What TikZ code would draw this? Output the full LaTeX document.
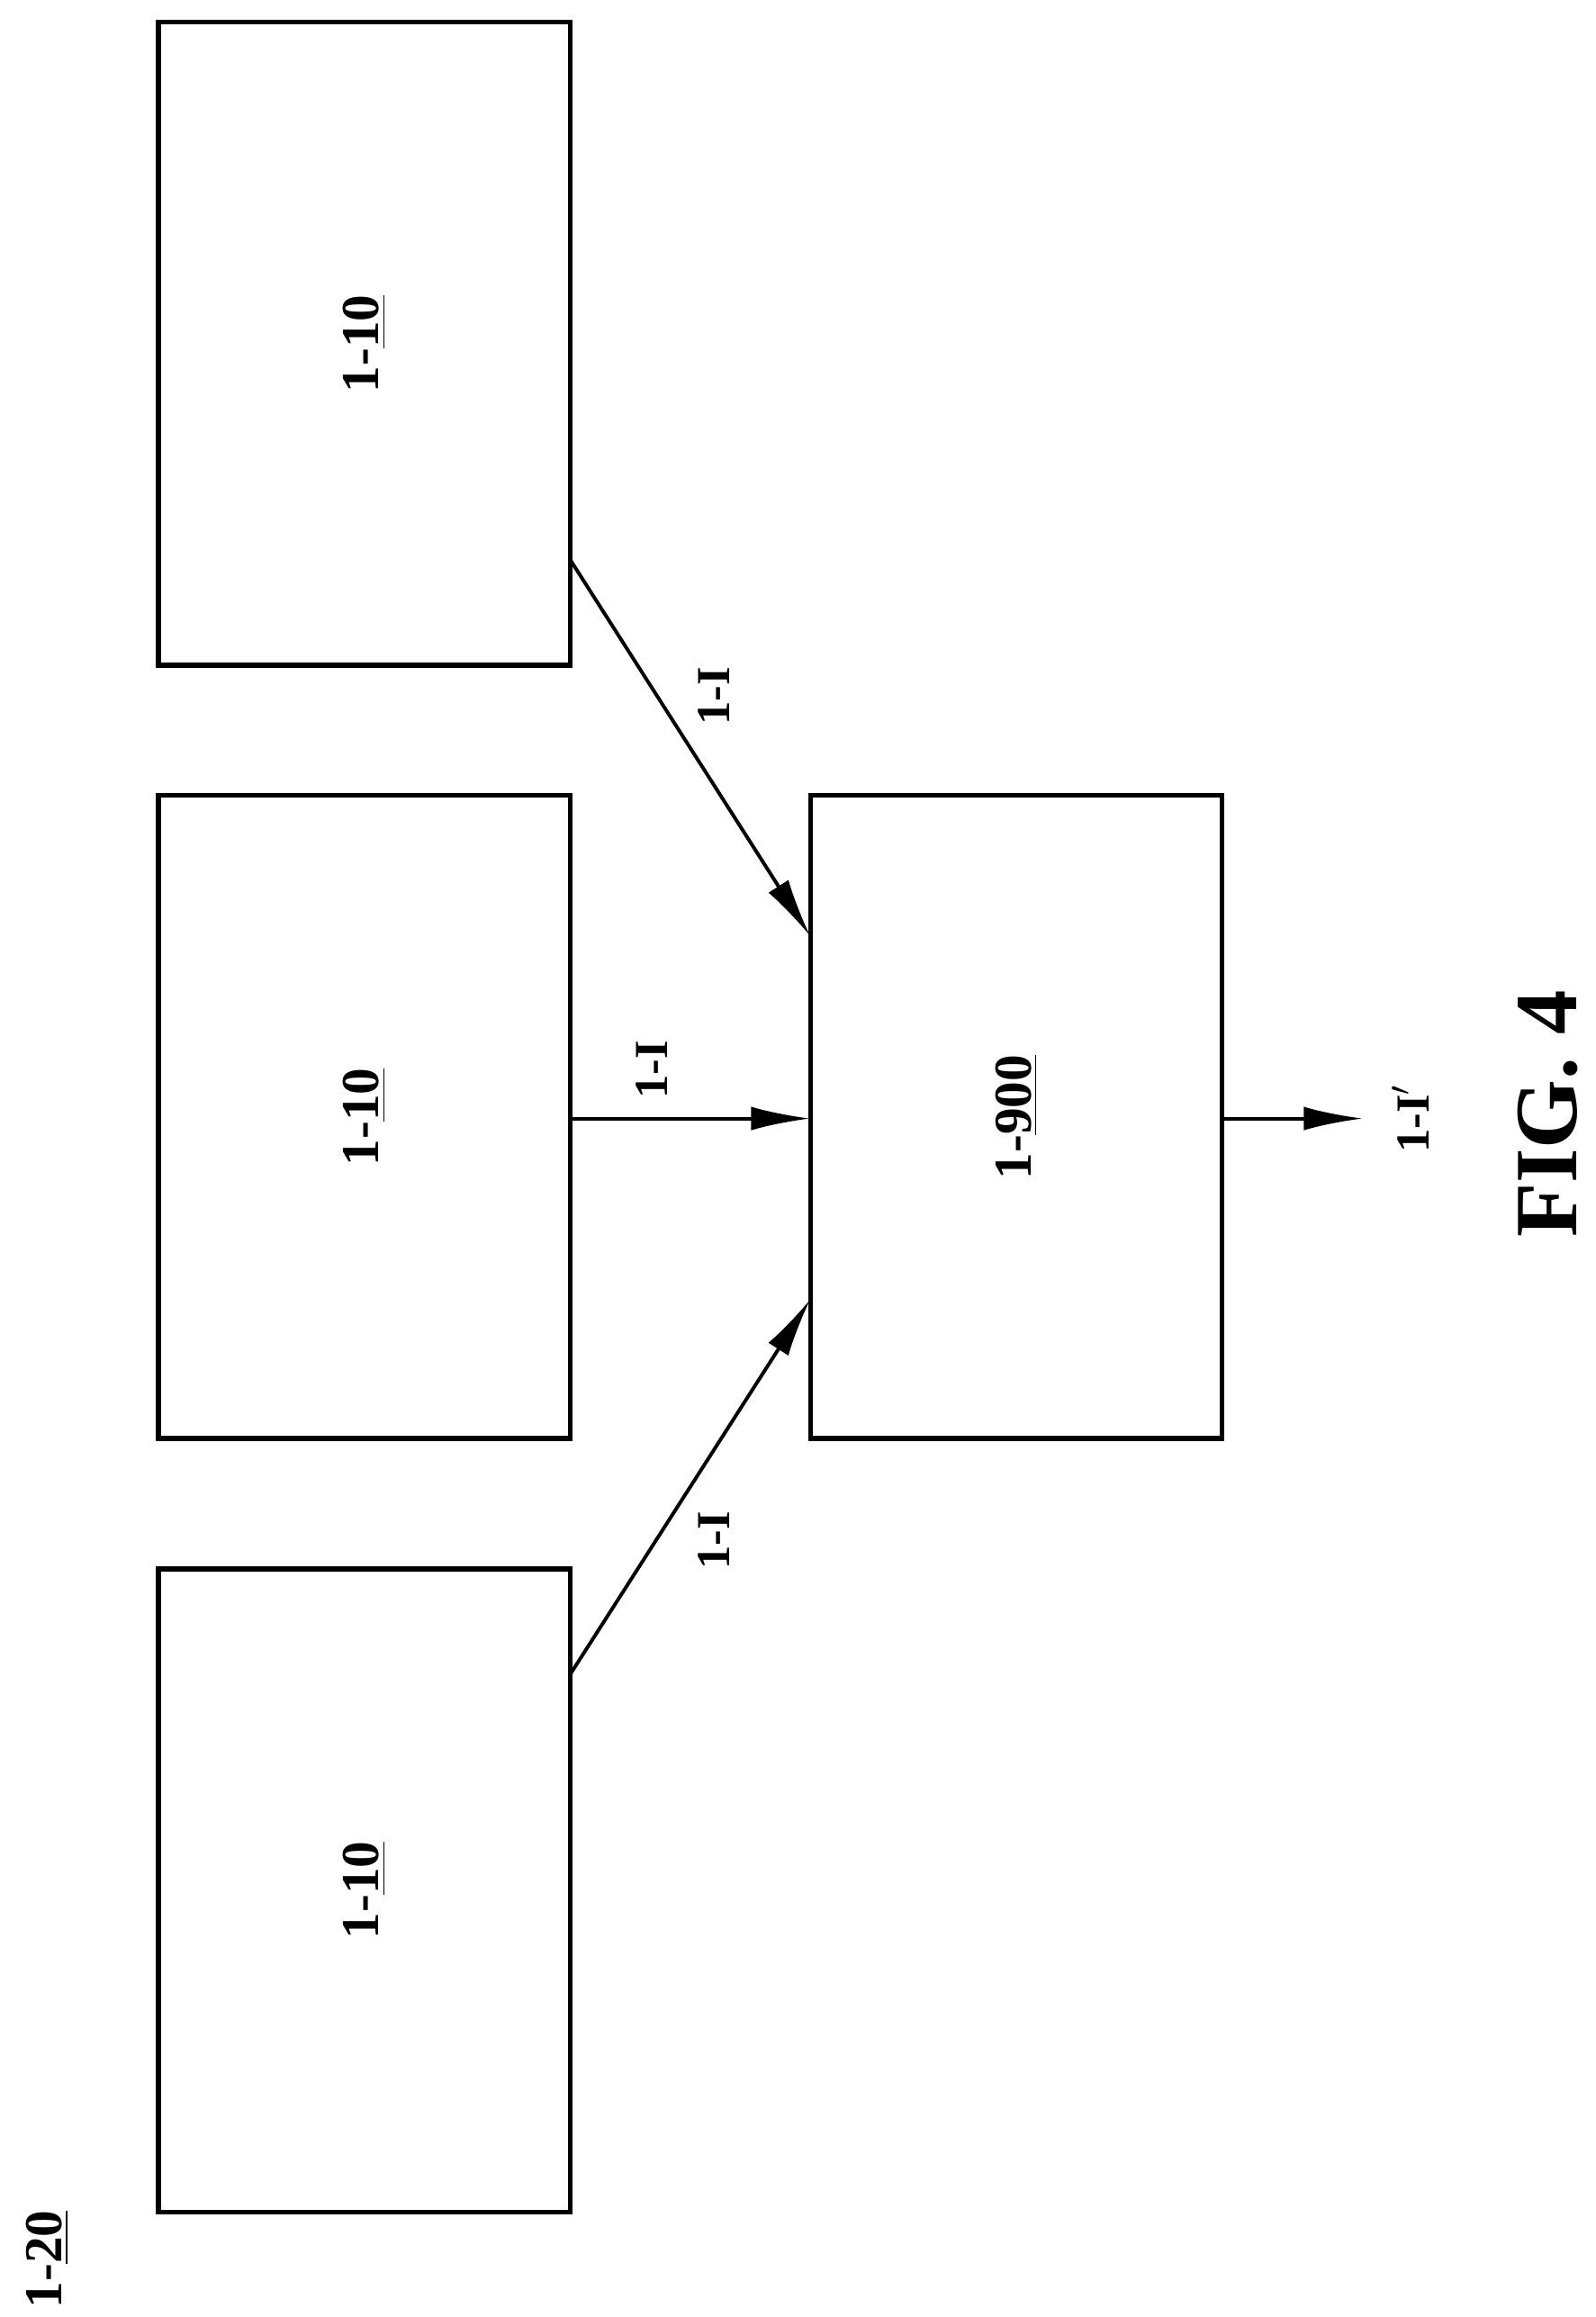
\documentclass[tikz,border=0pt]{standalone}
\usepackage{fontspec}
\setmainfont{Liberation Serif}
\usetikzlibrary{arrows.meta}
\begin{document}
\begin{tikzpicture}[x=0.5pt,y=-0.5pt,
 box/.style={draw,line width=1.6pt,minimum width=139pt,minimum height=217pt,inner sep=0},
 big/.style={rotate=90,font=\fontsize{18}{21}\selectfont\bfseries},
 lab/.style={rotate=90,font=\fontsize{16}{19}\selectfont\bfseries},
 arr/.style={line width=1.2pt,-{Latex[length=20pt,width=8pt]}}]
\useasboundingbox (0,0) rectangle (1077,1564);
\node[box] (a) at (246,232) {};
\node[big] at (a.center) {1-\underline{10}};
\node[box] (b) at (246,754) {};
\node[big] at (b.center) {1-\underline{10}};
\node[box] (c) at (246,1276) {};
\node[big] at (c.center) {1-\underline{10}};
\node[box] (d) at (686,754) {};
\node[big] at (d.center) {1-\underline{900}};
\coordinate (a1) at (385,378); \coordinate (d1) at (547,632);
\coordinate (b1) at (385,755); \coordinate (d2) at (547,755);
\coordinate (c1) at (385,1130); \coordinate (d3) at (547,877);
\coordinate (d4) at (825,755); \coordinate (o) at (920,755);
\draw[arr] (a1) -- (d1);
\draw[arr] (b1) -- (d2);
\draw[arr] (c1) -- (d3);
\draw[arr] (d4) -- (o);
\node[lab] (l1) at (482,470) {1-I};
\node[lab] (l2) at (440,722) {1-I};
\node[lab] (l3) at (482,1040) {1-I};
\node[lab] (l4) at (952,755) {1-I$'$};
\node[rotate=90,font=\fontsize{30}{34}\selectfont\bfseries] (fig) at (1045,752) {FIG. 4};
\node[big] (t) at (32,1525) {1-\underline{20}};
\end{tikzpicture}
\end{document}
